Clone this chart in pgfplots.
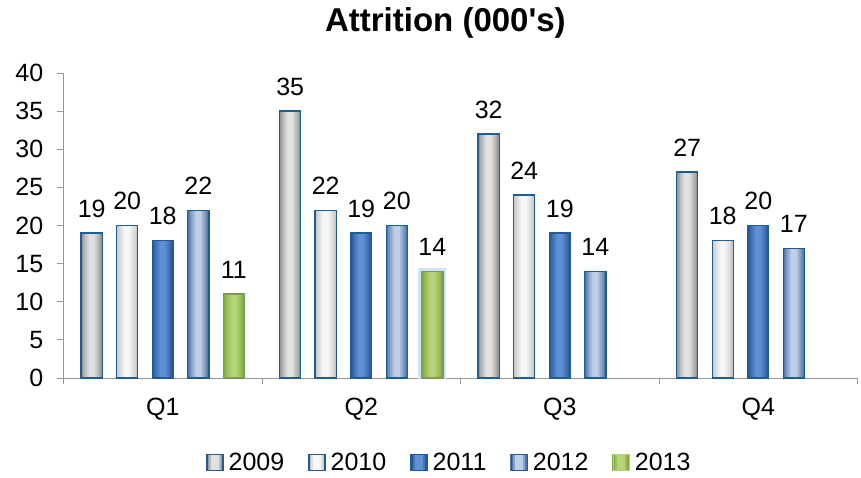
\documentclass[border=0pt]{standalone}
\usepackage{pgfplots}
\usepackage{pgfplotstable}
\pgfplotsset{compat=1.18}
\usepackage{fontspec}
\setmainfont{Liberation Sans}
\newfontfamily\plainfont{Liberation Sans}
\definecolor{bord}{RGB}{30,92,145}
\definecolor{gA}{RGB}{150,150,150}
\definecolor{gB}{RGB}{225,225,225}
\definecolor{wA}{RGB}{200,200,200}
\definecolor{wB}{RGB}{246,246,246}
\definecolor{bA}{RGB}{42,88,150}
\definecolor{bB}{RGB}{95,145,215}
\definecolor{lA}{RGB}{80,118,170}
\definecolor{lB}{RGB}{190,208,232}
\definecolor{grA}{RGB}{130,170,65}
\definecolor{grB}{RGB}{180,212,120}
\definecolor{grBord}{RGB}{125,155,85}
\definecolor{glow}{RGB}{205,228,250}
\definecolor{axgray}{RGB}{150,150,150}

\pgfplotstableread{
x y
0 19
1 35
2 32
3 27
}\tA
\pgfplotstableread{
x y
0 20
1 22
2 24
3 18
}\tB
\pgfplotstableread{
x y
0 18
1 19
2 19
3 20
}\tC
\pgfplotstableread{
x y
0 22
1 20
2 14
3 17
}\tD
\pgfplotstableread{
x y
0 11
1 14
}\tE
\pgfplotstableread{
x y
1 14
}\tEglow

% #1 table, #2 bar shift, #3 edge colour, #4 middle colour
\newcommand{\gradbars}[4]{%
  \addplot[draw=none, fill=#3, bar shift=#2, bar width=0.106, forget plot] table {#1};
  \addplot[draw=none, fill=#4!30!#3, bar shift=#2, bar width=0.088, forget plot] table {#1};
  \addplot[draw=none, fill=#4!55!#3, bar shift=#2, bar width=0.070, forget plot] table {#1};
  \addplot[draw=none, fill=#4!78!#3, bar shift=#2, bar width=0.050, forget plot] table {#1};
  \addplot[draw=none, fill=#4, bar shift=#2, bar width=0.030, forget plot] table {#1};
}
% legend square: #1 edge, #2 middle, #3 border
\newcommand{\legsq}[3]{%
  \fill[#1] (0pt,-8pt) rectangle (16pt,8pt);
  \fill[#2!50!#1] (2.5pt,-8pt) rectangle (13.5pt,8pt);
  \fill[#2] (5pt,-8pt) rectangle (11pt,8pt);
  \draw[#3, line width=1.2pt] (0pt,-8pt) rectangle (16pt,8pt);
  \path (19pt,0pt);
}
\begin{document}
\begin{tikzpicture}
\path[use as bounding box] (-63.5pt,-99pt) rectangle (797.5pt,378pt);
\begin{axis}[
  scale only axis, width=794pt, height=305pt,
  xmin=-0.5, xmax=3.5, ymin=0, ymax=40,
  ybar,
  axis x line*=bottom, axis y line*=left,
  x axis line style={-}, y axis line style={-},
  axis line style={draw=axgray, line width=1pt},
  every tick/.style={draw=axgray, line width=1pt},
  tick align=outside, major tick length=6pt,
  xtick={-0.5,0.5,1.5,2.5,3.5},
  xticklabels={Q1,Q2,Q3,Q4,{}},
  xticklabel style={anchor=north, inner sep=0pt, xshift=99.25pt, yshift=-14pt},
  ytick={0,5,...,40},
  yticklabel style={anchor=east, inner sep=0pt, xshift=-14pt},
  tick label style={font=\fontsize{25}{25}\selectfont},
  /pgf/number format/assume math mode=true,
  title={Attrition (000's)},
  title style={font=\fontsize{33}{33}\selectfont\plainfont\bfseries, at={(0.481,1)}, anchor=base, yshift=35pt},
  legend columns=5,
  legend style={draw=none, fill=none, at={(0.486,-0.278)}, anchor=center,
    font=\fontsize{25}{25}\selectfont,
    /tikz/every even column/.append style={column sep=22pt}},
  bar width=0.106,
  every node near coord/.append style={font=\fontsize{25}{25}\selectfont, text=black, anchor=base, inner sep=0pt, yshift=16pt},
]
\gradbars{\tA}{-0.358}{gA}{gB}
\gradbars{\tB}{-0.179}{wA}{wB}
\gradbars{\tC}{0}{bA}{bB}
\gradbars{\tD}{0.179}{lA}{lB}
\addplot[draw=glow, line width=7pt, fill=none, bar shift=0.358, forget plot] table {\tEglow};
\gradbars{\tE}{0.358}{grA}{grB}

\addplot[draw=bord, line width=1.4pt, fill=none, bar shift=-0.358, nodes near coords,
  legend image code/.code={\legsq{gA}{gB}{bord}}]
  table {\tA};
\addlegendentry{2009}
\addplot[draw=bord, line width=1.4pt, fill=none, bar shift=-0.179, nodes near coords,
  legend image code/.code={\legsq{wA}{wB}{bord}}]
  table {\tB};
\addlegendentry{2010}
\addplot[draw=bord, line width=1.4pt, fill=none, bar shift=0, nodes near coords,
  legend image code/.code={\legsq{bA}{bB}{bord}}]
  table {\tC};
\addlegendentry{2011}
\addplot[draw=bord, line width=1.4pt, fill=none, bar shift=0.179, nodes near coords,
  legend image code/.code={\legsq{lA}{lB}{bord}}]
  table {\tD};
\addlegendentry{2012}
\addplot[draw=grBord, line width=1.4pt, fill=none, bar shift=0.358, nodes near coords,
  legend image code/.code={\legsq{grA}{grB}{grB}}]
  table {\tE};
\addlegendentry{2013}
\end{axis}
\end{tikzpicture}
\end{document}
